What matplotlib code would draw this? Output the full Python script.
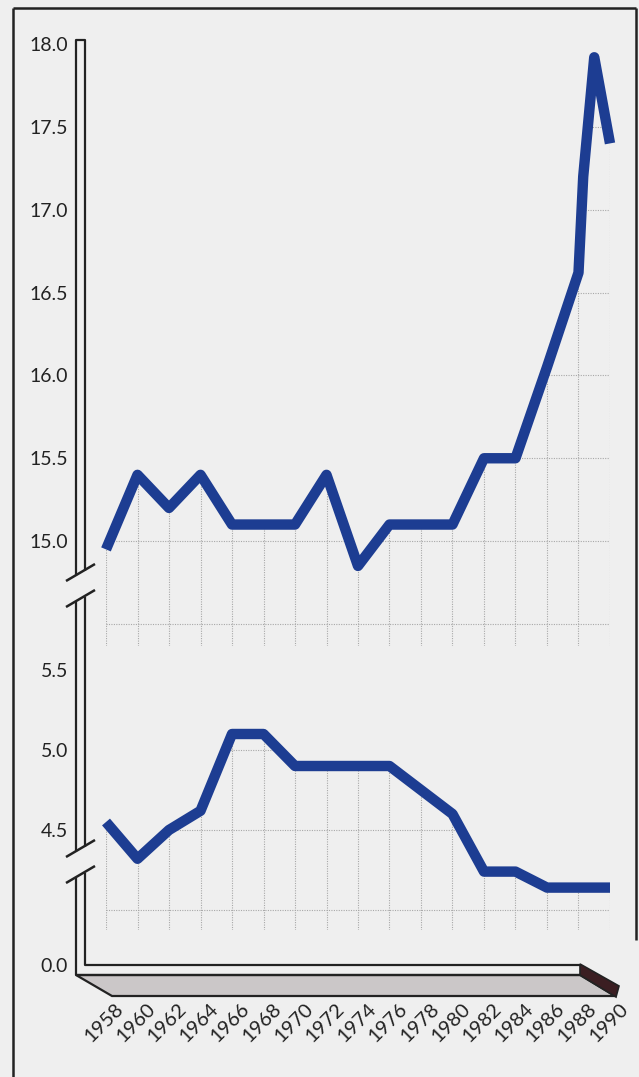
import matplotlib
matplotlib.use("Agg")
import matplotlib.pyplot as plt
from matplotlib.transforms import Affine2D
from matplotlib.patches import Polygon, PathPatch
from matplotlib.lines import Line2D

# series values
years_top = [1958, 1960, 1962, 1964, 1966, 1968, 1970, 1972, 1974, 1976,
             1978, 1980, 1982, 1984, 1986, 1988, 1988.3, 1989, 1990]
values_top = [14.95, 15.4, 15.2, 15.4, 15.1, 15.1, 15.1, 15.4, 14.85, 15.1,
              15.1, 15.1, 15.5, 15.5, 16.05, 16.62, 17.2, 17.92, 17.4]

years_low = [1958, 1960, 1962, 1964, 1966, 1968, 1970, 1972, 1974, 1976,
             1978, 1980, 1982, 1984, 1986, 1988, 1990]
values_low = [4.55, 4.32, 4.5, 4.62, 5.1, 5.1, 4.9, 4.9, 4.9, 4.9,
              4.75, 4.6, 4.24, 4.24, 4.14, 4.14, 4.14]

tick_years = list(range(1958, 1991, 2))
top_ticks = [14.5, 15.0, 15.5, 16.0, 16.5, 17.0, 17.5, 18.0]
top_labels = ["", "15.0", "15.5", "16.0", "16.5", "17.0", "17.5", "18.0"]
low_ticks = [4.0, 4.5, 5.0, 5.5]
low_labels = ["", "4.5", "5.0", "5.5"]

W, H = 639, 1077
BG = "#efefef"
LINE = "#1d3d92"
INK = "#222222"
GRID = "#a8a8a8"

plt.rcParams["font.family"] = ["Lato", "DejaVu Sans"]

fig = plt.figure(figsize=(W / 100, H / 100), dpi=100, facecolor=BG)
# pixel coordinates, origin top-left
px = Affine2D().scale(1 / W, -1 / H).translate(0, 1) + fig.transFigure


def add_axes_px(x0, y0, x1, y1):
    ax = fig.add_axes([x0 / W, 1 - y1 / H, (x1 - x0) / W, (y1 - y0) / H])
    ax.set_facecolor("none")
    for s in ax.spines.values():
        s.set_visible(False)
    return ax


XL = (1956.603, 1991.27)
ax_top = add_axes_px(84, 30, 630, 646)
ax_top.set_ylim(14.367, 18.0845)
ax_low = add_axes_px(84, 650, 630, 930)
ax_low.set_ylim(3.875, 5.625)


def panel(ax, years, values, ticks, labels):
    ax.set_xlim(*XL)
    ax.set_xticks(tick_years)
    ax.set_yticks(ticks, labels)
    ax.tick_params(axis="x", length=0, labelbottom=False)
    ax.tick_params(axis="y", length=0, pad=11.5, labelsize=14, labelcolor=INK)
    ybot = ax.get_ylim()[0]
    # grid only shows underneath the curve
    under = ax.fill_between(years, values, ybot, facecolor="none", edgecolor="none")
    clip = PathPatch(under.get_paths()[0], transform=ax.transData,
                     facecolor="none", edgecolor="none")
    ax.add_patch(clip)
    vl = ax.vlines(tick_years, ybot, ax.get_ylim()[1], colors=GRID,
                   linewidth=0.8, linestyles=(0, (1, 1.2)))
    hl = ax.hlines(ticks, years[0], years[-1], colors=GRID,
                   linewidth=0.8, linestyles=(0, (1, 1.2)))
    vl.set_clip_path(clip)
    hl.set_clip_path(clip)
    ax.plot(years, values, color=LINE, linewidth=7.5, solid_capstyle="butt",
            solid_joinstyle="round", clip_on=False, zorder=5)


panel(ax_top, years_top, values_top, top_ticks, top_labels)
panel(ax_low, years_low, values_low, low_ticks, low_labels)

# floor strip carrying the zero level and the year labels
ax_floor = add_axes_px(84, 945, 630, 985)
ax_floor.set_ylim(-1, 1)
ax_floor.set_xlim(XL[0] - 15 / 15.75, XL[1] - 15 / 15.75)
ax_floor.set_yticks([0], ["0.0"])
ax_floor.set_xticks(tick_years, [str(y) for y in tick_years])
ax_floor.tick_params(axis="y", length=0, pad=11.5, labelsize=14, labelcolor=INK)
ax_floor.tick_params(axis="x", length=0, pad=15, labelsize=14.5, labelcolor=INK)
for lbl in ax_floor.get_xticklabels():
    lbl.set_rotation(45)
    lbl.set_rotation_mode("anchor")
    lbl.set_ha("right")
    lbl.set_va("center")


def seg(xs, ys, lw=1.6, color=INK):
    fig.add_artist(Line2D(xs, ys, transform=px, color=color, linewidth=lw,
                          solid_capstyle="butt"))


# page frame
seg([13, 13], [8, 1077], lw=1.8)
seg([13, 636], [8, 8], lw=1.8)
seg([636, 636], [8, 940], lw=1.8)

# y axis drawn as a thin wall with two breaks
X_OUT, X_IN = 76, 85
seg([X_OUT, X_OUT, X_IN, X_IN], [576, 40, 40, 571])
seg([X_OUT, X_OUT], [602, 852])
seg([X_IN, X_IN], [597, 847])
seg([X_OUT, X_OUT, 580], [878, 975, 975])
seg([X_IN, X_IN, 580], [873, 965, 965])
for yb in (581, 607, 857, 883):
    seg([66, 95], [yb, yb - 17], lw=1.8)

# floor front face and end cap
fig.add_artist(Polygon([(X_OUT, 975), (580, 975), (615, 996), (112, 996)],
                       closed=True, transform=px, facecolor="#cbc7c8",
                       edgecolor=INK, linewidth=1.6))
fig.add_artist(Polygon([(580, 964), (619, 986), (616, 997), (580, 975)],
                       closed=True, transform=px, facecolor="#3b1e22",
                       edgecolor=INK, linewidth=1.2))

fig.savefig("out.png", dpi=100, facecolor=BG)
